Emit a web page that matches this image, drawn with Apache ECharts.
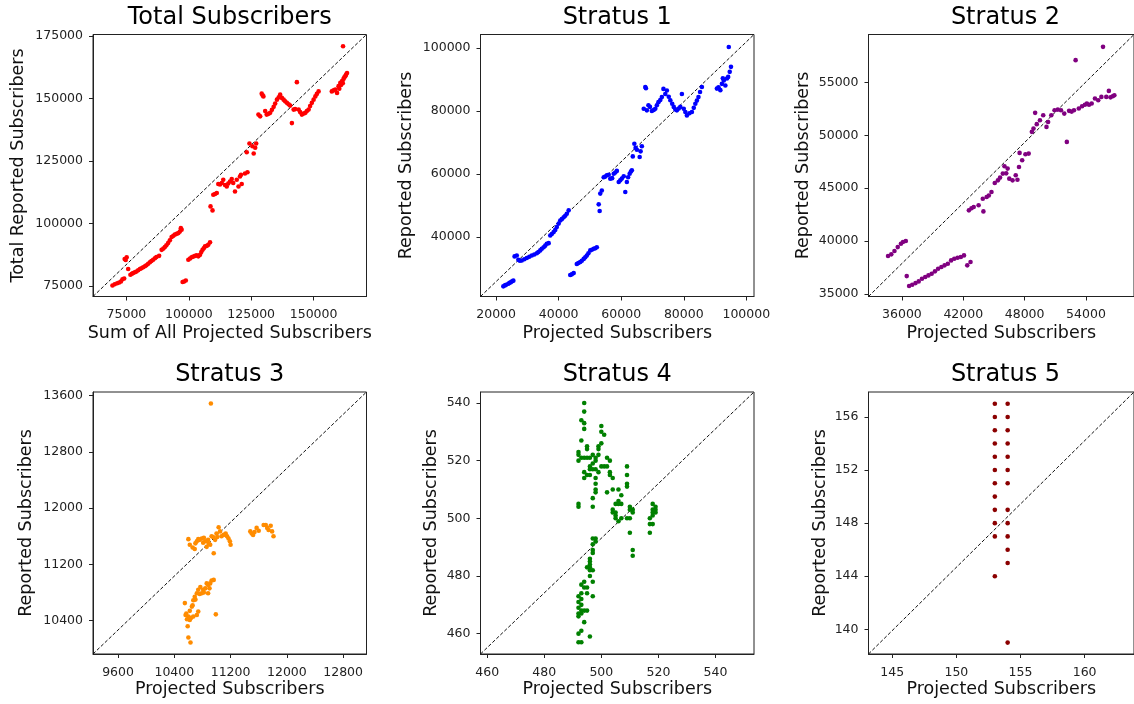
<!DOCTYPE html>
<html>
<head>
<meta charset="utf-8">
<script src="https://cdn.jsdelivr.net/npm/echarts@6/dist/echarts.min.js"></script>
<style>
html,body{margin:0;padding:0;background:#fff;}
#c{width:1134px;height:704px;}
</style>
</head>
<body>
<div id="c"></div>
<script>
// ---------------- DATA ----------------
const panelTitles = ["Total Subscribers", "Stratus 1", "Stratus 2", "Stratus 3", "Stratus 4", "Stratus 5"];
const xNames = ["Sum of All Projected Subscribers", "Projected Subscribers", "Projected Subscribers", "Projected Subscribers", "Projected Subscribers", "Projected Subscribers"];
const yNames = ["Total Reported Subscribers", "Reported Subscribers", "Reported Subscribers", "Reported Subscribers", "Reported Subscribers", "Reported Subscribers"];

const totalTicksX = [75000, 100000, 125000, 150000];
const totalTicksY = [75000, 100000, 125000, 150000, 175000];
const s1TicksX = [20000, 40000, 60000, 80000, 100000];
const s1TicksY = [40000, 60000, 80000, 100000];
const s2TicksX = [36000, 42000, 48000, 54000];
const s2TicksY = [35000, 40000, 45000, 50000, 55000];
const s3TicksX = [9600, 10400, 11200, 12000, 12800];
const s3TicksY = [10400, 11200, 12000, 12800, 13600];
const s4TicksX = [460, 480, 500, 520, 540];
const s4TicksY = [460, 480, 500, 520, 540];
const s5TicksX = [145, 150, 155, 160];
const s5TicksY = [140, 144, 148, 152, 156];

const totalPoints = [
[69400,75100],[70300,75600],[71300,76000],[72100,76300],[72800,76700],[73400,77600],[74100,77900],
[74300,85700],[75100,86400],[74700,85300],[75700,81700],
[76600,79400],[77200,79800],[77700,80100],[78400,80400],[79000,80700],[79700,81200],[80400,81700],[81000,82000],[81700,82400],[82400,82800],[83000,83200],[83700,83800],[84400,84400],[85000,84900],[85700,85400],[86400,86000],[87000,86500],[88100,87000],
[89100,89400],[89800,89900],[90400,90500],[91000,91200],[91700,92100],[92400,93200],[93100,94500],[93800,95000],[94400,95500],[95100,95800],[95800,96100],[96400,96700],[97100,97500],[96800,98100],
[97500,76500],[98100,76700],[98800,77100],
[99800,85400],[100500,85900],[101100,86400],[101800,86700],[102500,87000],[103800,86800],[103200,87200],[104500,87400],[105000,88500],[105500,89400],[106000,90000],[106500,90800],[107200,91000],[107800,91400],[108500,92400],
[108700,106800],[109500,105200],[109800,111500],[110500,111800],[111200,112200],
[111800,115800],[112500,115600],[113200,116200],[113800,117500],[114500,115400],[115200,114800],[115800,116000],[116500,116800],[117200,117800],[117800,116200],[118500,112800],[119200,117500],[119900,114800],[120500,118800],[121200,115800],[120900,119500],
[122500,120000],[123500,120500],[123200,128500],[124300,132000],[125500,130900],[126600,130300],[127000,132000],[126000,128000],
[127900,143600],[128600,142900],[129200,152000],[129600,151300],[129900,150900],[130600,145000],[131200,143600],[131900,143900],[132600,144300],[133300,145500],[134000,146700],[134600,148000],[135300,149600],[136000,150500],[136600,151600],[137300,150300],[138000,149600],[138600,148900],[139300,148300],[140000,147700],[140600,147200],[141300,140200],[142000,145600],[142600,145800],[143300,156600],[144000,145600],[144600,144600],[145300,143600],[146000,144000],[146700,144300],[147300,145000],[148000,145600],[148600,147000],[149300,148300],[150000,149600],[150700,150900],[151300,151900],[152000,152900],
[157300,152900],[158000,153300],[158700,153600],[159400,152300],[160000,155000],[160300,154000],[160700,156300],[161000,155500],[161400,157000],[161700,156200],[162000,157900],[162300,158500],[162700,159000],[163000,159600],[163400,160300],[161800,171000]
];

const s1Points = [
[22300,24400],[22800,24700],[23200,24900],[23900,25200],[24300,25500],[24700,25700],[25100,26000],[25500,26200],
[25900,33900],[26600,34200],[27100,32800],[27600,32500],[28200,32600],[29000,33000],[29800,33400],[30600,33800],[31400,34200],[32200,34500],[33000,34900],[33500,35300],[34100,35800],[34600,36300],[35200,36800],[35700,37300],[36200,37900],[36800,38100],
[37300,40500],[37800,41000],[38400,41600],[38900,42300],[39400,43200],[40000,44300],[40500,45300],[41000,45700],[41600,46300],[42100,46800],[42600,47400],[43200,48500],
[43700,28000],[44200,28200],[44800,28600],[45800,31500],[46300,31800],[46900,32100],[47400,32500],[48000,33100],[48500,33600],[49000,34200],[49500,34900],[50100,35800],[50600,36000],[51200,36300],[51700,36500],[52200,36800],
[52800,50400],[53100,48300],[53300,53800],[53800,54800],[54400,59000],[54900,59200],[55400,59600],[56000,59800],[56500,58500],[57100,58700],[57600,60100],[58100,60500],[58600,61000],[59200,57500],[59700,58000],[60200,58600],[60800,59300],[61300,54300],[61800,57500],[62200,59000],[62700,60100],[63100,60800],[63400,61200],
[63700,65600],[64200,69600],[64600,68300],[65000,67700],[65900,65400],[66200,67200],[66600,68800],
[67200,80700],[67700,87600],[67900,87200],[68200,80200],[68700,81800],[69200,81300],[69800,80000],[70400,80300],[70900,80700],[71400,81800],[71900,82800],[72500,83500],[73000,84400],[73500,87000],[74100,85400],[74600,86500],[75200,84500],[75700,83400],[76300,82300],[76800,81300],[77300,80500],[77800,80200],[78400,80800],[78900,81300],[79400,85400],[80000,80700],[80500,79700],[81000,78600],[81800,79300],[82600,79700],[83200,81000],[83700,82300],[84200,83300],[84700,84400],[85200,86000],[85800,87600],
[90600,87100],[91100,87500],[91700,86600],[92200,88600],[92800,89700],[93300,88100],[93800,90300],[94400,100300],[94700,92400],[95100,94000],[94200,90800],[92500,90400]
];

const s2Points = [
[34640,38570],[34960,38730],[35270,39050],[35590,39420],[35900,39740],[36100,39900],[36380,39990],[36470,36670],
[36700,35730],[37010,35850],[37330,36010],[37640,36170],[37960,36420],[38280,36580],[38590,36740],[38910,36900],[39230,37120],[39540,37370],[39860,37530],[40170,37690],[40490,37840],[40810,38160],[41120,38320],[41440,38410],[41760,38480],[42070,38630],[42390,37690],[42710,38000],
[42550,42900],[42800,43100],[43020,43220],[43500,43380],[43970,42800],[43910,44000],[44290,44160],[44500,44300],[44760,44640],
[45080,45490],[45390,45740],[45600,46000],[45870,46380],[46030,47070],[46340,46850],[46500,45900],[46820,45740],[47130,46220],[47450,47010],[47510,48340],[47760,47640],[48080,48210],[48400,48270],[47300,45800],[46200,46400],
[48710,50330],[48870,50640],[49030,52130],[49190,51060],[49500,51430],[49820,51900],[50140,50800],[50300,51270],[50610,51900],[50930,52380],[51250,52440],[51560,52380],[51880,52060],[52130,49380],[52350,52320],[52600,52250],[52830,52380],[52990,57120],[53300,52540],[53620,52760],[53900,52900],[54090,53010],[54300,52900],[54560,53010],[54880,53490],[55200,53330],[55510,53640],[55670,58380],[55990,53640],[56240,54210],[56400,53600],[56620,53700],[56780,53800]
];

const s3Points = [
[10920,13490],
[10600,11560],[10620,11480],[10660,11440],[10690,11420],[10720,11530],[10740,11560],[10760,11550],[10790,11570],[10810,11510],[10840,11530],[10860,11450],[10880,11550],[10910,11480],[10930,11600],[10960,11360],[10980,11550],[11000,11640],[11030,11730],[11050,11670],[11070,11600],[11100,11620],[11130,11640],[11150,11600],[11170,11570],[11190,11530],[11200,11480],[10700,11500],[10820,11580],[10890,11500],[10950,11590],[11010,11590],
[11480,11670],[11500,11640],[11520,11620],[11540,11660],[11570,11720],[11600,11680],[11670,11760],[11700,11760],[11720,11720],[11740,11690],[11770,11750],[11790,11670],[11810,11600],
[10550,10650],[10570,10500],[10600,10460],[10590,10320],[10620,10410],[10650,10600],[10670,10690],[10690,10740],[10720,10790],[10740,10840],[10770,10880],[10790,10790],[10810,10840],[10840,10860],[10860,10930],[10880,10910],[10910,10930],[10930,10970],[10960,10980],[10880,10790],[10720,10480],[10670,10460],[10740,10530],[10990,10490],[10600,10160],[10630,10090],[10620,10540],[10660,10620],[10560,10480],[10700,10700],[10760,10780],[10820,10800],[10900,10860],[10640,10440],[10580,10420]
];

const s4Points = [
[494,540],[494,537],[493,534],[494,533],[494,531],[493,527],[492,522],[492,523],[492,520],[493,521],[495,525],[495,524],[494,521],[495,521],[494,514],[495,515],[496,515],[494,516],[496,518],[497,519],[498,521],[498,520],[499,524],[499,525],[500,526],[500,532],[500,530],[501,529],[498,514],[498,512],[498,510],[498,509],[497,507],[497,504],[502,521],[502,518],[503,520],[503,516],[504,514],[502,509],[506,510],[506,506],[507,508],[505,505],[506,505],[507,505],[504,503],[504,502],[505,501],[505,500],[506,499],[507,500],[509,518],[509,515],[509,512],[509,511],[510,504],[510,503],[511,502],[511,503],[510,500],[510,495],[511,489],[511,487],[518,505],[518,503],[518,502],[517,500],[517,498],[518,498],[517,495],[519,504],[519,502],[518,501],[519,503],[498,492],[497,491],[497,489],[497,488],[496,486],[496,484],[495,483],[496,483],[497,482],[496,480],[497,478],[494,478],[493,477],[494,476],[495,476],[495,474],[493,474],[492,473],[497,473],[493,472],[492,471],[493,470],[492,469],[493,468],[495,468],[494,468],[492,467],[493,467],[492,466],[494,464],[492,460],[493,461],[496,459],[492,457],[493,457],[492,505],[492,504],[496,517],[497,517],[499,522],[499,516],[500,518],[498,517],[496,521],[497,522],[501,518],[503,515],[504,510],[505,502],[509,500],[496,482],[496,485],[497,493],[498,493]
];

const s5Points = [
[153,157],[153,156],[153,155],[153,154],[153,153],[153,152],[153,151],[153,150],[153,149],[153,148],[153,147],[153,144],
[154,157],[154,156],[154,155],[154,154],[154,153],[154,152],[154,151],[154,149],[154,148],[154,147],[154,146],[154,145],[154,139]
];

// ---------------- LAYOUT / STYLE ----------------
const FONT = "DejaVu Sans";
const allPoints = [totalPoints, s1Points, s2Points, s3Points, s4Points, s5Points];
const ticksX = [totalTicksX, s1TicksX, s2TicksX, s3TicksX, s4TicksX, s5TicksX];
const ticksY = [totalTicksY, s1TicksY, s2TicksY, s3TicksY, s4TicksY, s5TicksY];
const colors = ["#ff0000", "#0000ff", "#800080", "#ff8c00", "#008000", "#8b0000"];
const xRange = [[61600,171200],[15000,102460],[32730,58700],[9244,13132],[457.66,553.5],[143.15,163.85]];
const yRange = [[70700,175700],[21180,104250],[34740,59550],[9926,13653],[452.95,543.8],[138.14,157.88]];
const grids = [
  {left:93,    top:34.5, width:273.5, height:262},
  {left:480.5, top:34.5, width:273.5, height:262},
  {left:868.5, top:34.5, width:274,   height:262},
  {left:93,    top:392,  width:273.5, height:262},
  {left:480.5, top:392,  width:273.5, height:262},
  {left:868.5, top:392,  width:274,   height:262}
];
const yNameGap = [66, 65, 56, 58, 40, 39];
const xNameGap = [28, 28, 28, 26, 26, 26];

const option = {
  animation: false,
  backgroundColor: '#fff',
  grid: [], xAxis: [], yAxis: [], series: [], graphic: []
};

for (let i = 0; i < 6; i++) {
  const g = grids[i];
  option.grid.push(Object.assign({show:true, borderColor:'#222', borderWidth:1, backgroundColor:'transparent', containLabel:false}, g));
  const axisCommon = {
    type:'value',
    gridIndex:i,
    nameLocation:'middle',
    nameTextStyle:{fontFamily:FONT, fontSize:17.5, color:'#111'},
    axisLine:{show:true, onZero:false, lineStyle:{color:'#222', width:1}},
    splitLine:{show:false}
  };
  option.xAxis.push(Object.assign({}, axisCommon, {
    min:xRange[i][0], max:xRange[i][1],
    name:xNames[i], nameGap:xNameGap[i],
    axisTick:{show:true, length:4, customValues:ticksX[i], lineStyle:{color:'#222'}},
    axisLabel:{customValues:ticksX[i], fontFamily:FONT, fontSize:12.5, color:'#222', margin:12, formatter:v=>String(v)}
  }));
  option.yAxis.push(Object.assign({}, axisCommon, {
    min:yRange[i][0], max:yRange[i][1],
    name:yNames[i], nameGap:yNameGap[i],
    axisTick:{show:true, length:4, customValues:ticksY[i], lineStyle:{color:'#222'}},
    axisLabel:{customValues:ticksY[i], fontFamily:FONT, fontSize:12.5, color:'#222', margin:10, formatter:v=>String(v)}
  }));
  option.series.push({
    type:'line', xAxisIndex:i, yAxisIndex:i, silent:true, symbol:'none', z:1,
    data:[[xRange[i][0], yRange[i][0]], [xRange[i][1], yRange[i][1]]],
    lineStyle:{color:'#111', width:1, type:[3.5,2]}
  });
  option.series.push({
    type:'scatter', xAxisIndex:i, yAxisIndex:i, symbolSize:4.6, z:2,
    itemStyle:{color:colors[i], opacity:1},
    data:allPoints[i]
  });
  option.graphic.push({
    type:'text', x: g.left + g.width/2, y: (i < 3 ? 18 : 375),
    style:{text:panelTitles[i], fill:'#000', font:'24px "' + FONT + '"', textAlign:'center', textVerticalAlign:'middle'}
  });
}

const chart = echarts.init(document.getElementById('c'), null, {renderer:'canvas'});
chart.setOption(option);
</script>
</body>
</html>
